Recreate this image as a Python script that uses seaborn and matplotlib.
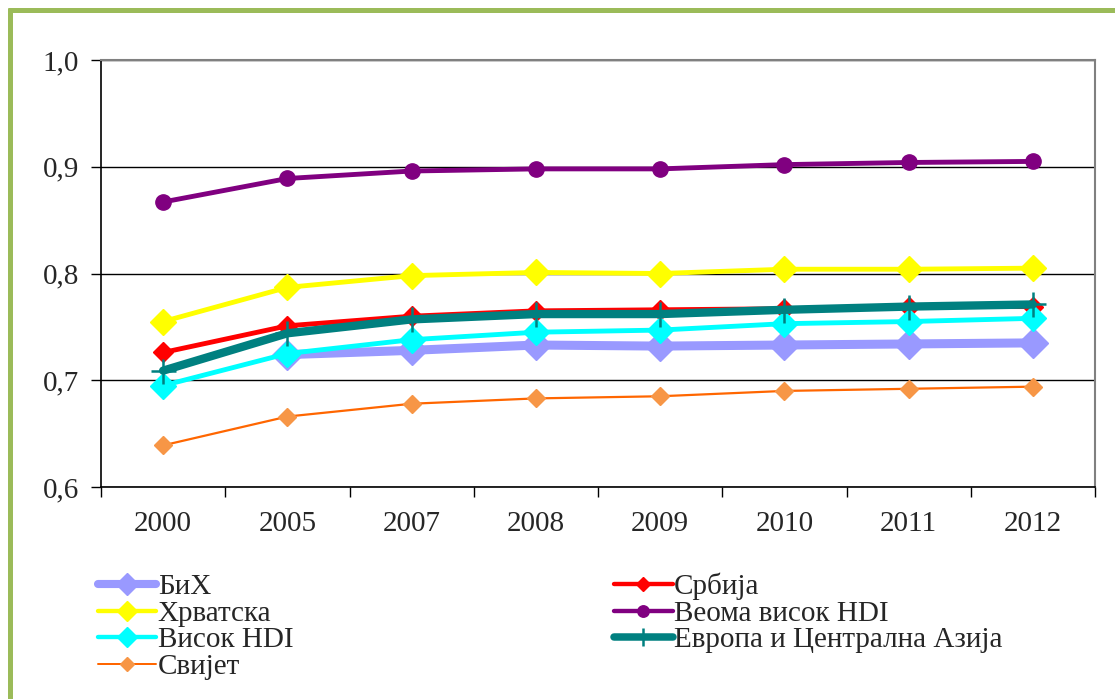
import numpy as np
import pandas as pd
import matplotlib
matplotlib.use("Agg")
import matplotlib.pyplot as plt
import seaborn as sns
from matplotlib.lines import Line2D

years = ["2000", "2005", "2007", "2008", "2009", "2010", "2011", "2012"]
bih = [np.nan, 0.724, 0.728, 0.733, 0.732, 0.733, 0.734, 0.735]
srbija = [0.726, 0.751, 0.760, 0.765, 0.766, 0.767, 0.769, 0.769]
hrvatska = [0.755, 0.787, 0.798, 0.801, 0.800, 0.804, 0.804, 0.805]
veoma_visok = [0.867, 0.889, 0.896, 0.898, 0.898, 0.902, 0.904, 0.905]
visok = [0.695, 0.725, 0.738, 0.745, 0.747, 0.753, 0.755, 0.758]
evropa = [0.709, 0.744, 0.757, 0.762, 0.762, 0.766, 0.769, 0.771]
svijet = [0.639, 0.666, 0.678, 0.683, 0.685, 0.690, 0.692, 0.694]
y_ticks = [0.6, 0.7, 0.8, 0.9, 1.0]
y_tick_labels = ["0,6", "0,7", "0,8", "0,9", "1,0"]

series = [
    ("БиХ", bih, dict(color="#9999FF", lw=6.5, marker="D", ms=15, mec="#9999FF")),
    ("Србија", srbija, dict(color="#FF0000", lw=3.5, marker="D", ms=10, mec="#FF0000")),
    ("Хрватска", hrvatska, dict(color="#FFFF00", lw=3.5, marker="D", ms=13, mec="#FFFF00")),
    ("Веома висок HDI", veoma_visok, dict(color="#800080", lw=3.5, marker="o", ms=11, mec="#800080")),
    ("Висок HDI", visok, dict(color="#00FFFF", lw=3.5, marker="D", ms=13, mec="#00FFFF")),
    ("Европа и Централна Азија", evropa, dict(color="#008080", lw=6, marker="+", ms=18, mew=1.8, mec="#008080")),
    ("Свијет", svijet, dict(color="#FF6600", lw=1.6, marker="D", ms=9, mfc="#F79646", mec="#F79646")),
]

sns.set_theme(style="white")
plt.rcParams["font.family"] = ["Liberation Serif", "DejaVu Serif"]

fig = plt.figure(figsize=(11.15, 6.99), dpi=100)
fig.patch.set_facecolor("white")
ax = fig.add_axes([101 / 1115, 1 - 487 / 699, (1095 - 101) / 1115, (487 - 60) / 699])

x = np.arange(len(years))
handles = {}
for name, vals, st in series:
    df = pd.DataFrame({"x": x, "y": vals}).dropna()
    sns.lineplot(data=df, x="x", y="y", ax=ax, color=st["color"], linewidth=st["lw"],
                 marker=st["marker"], markersize=st["ms"], markeredgecolor=st.get("mec"),
                 markerfacecolor=st.get("mfc", st["color"]), markeredgewidth=st.get("mew", 1),
                 legend=False, zorder=3)
    handles[name] = Line2D([], [], color=st["color"], lw=st["lw"] * 0.9, marker=st["marker"],
                           markersize=st["ms"] * 0.75, markeredgecolor=st.get("mec"),
                           markerfacecolor=st.get("mfc", st["color"]),
                           markeredgewidth=st.get("mew", 1))

ax.set_xlim(-0.5, len(years) - 0.5)
ax.set_ylim(0.6, 1.0)
ax.set_xlabel("")
ax.set_ylabel("")
ax.set_yticks(y_ticks)
ax.set_yticklabels(y_tick_labels, fontsize=21)
ax.yaxis.grid(True, color="#000000", lw=1.0)
ax.set_axisbelow(True)
ax.set_xticks(np.arange(len(years) + 1) - 0.5)
ax.set_xticklabels([])
ax.set_xticks(x, minor=True)
ax.set_xticklabels(years, minor=True, fontsize=21)
ax.tick_params(axis="x", which="major", direction="out", length=7, width=1, color="black", bottom=True)
ax.tick_params(axis="x", which="minor", length=0, pad=17)
ax.tick_params(axis="y", direction="out", length=7, width=1, color="black", left=True, pad=9)
for s in ["left", "bottom"]:
    ax.spines[s].set_color("black")
    ax.spines[s].set_linewidth(1.2)
for s in ["right", "top"]:
    ax.spines[s].set_color("#808080")
    ax.spines[s].set_linewidth(1.5)

order = ["БиХ", "Хрватска", "Висок HDI", "Свијет", "Србија", "Веома висок HDI", "Европа и Централна Азија"]
leg = fig.legend([handles[n] for n in order], order, loc="upper left",
                 bbox_to_anchor=(98 / 1115, 1 - 573 / 699), bbox_transform=fig.transFigure,
                 ncol=2, frameon=False, fontsize=21, handlelength=2.0, handletextpad=0.05,
                 labelspacing=0.0, columnspacing=11.0, borderpad=0, borderaxespad=0)

green = "#9BBB59"
fig.add_artist(Line2D([10 / 1115, 10 / 1115], [0, 1 - 8 / 699], color=green, lw=3.6,
                      transform=fig.transFigure, solid_capstyle="butt"))
fig.add_artist(Line2D([8 / 1115, 1], [1 - 10 / 699, 1 - 10 / 699], color=green, lw=3.6,
                      transform=fig.transFigure, solid_capstyle="butt"))

fig.savefig("out.png", dpi=100, facecolor="white")
